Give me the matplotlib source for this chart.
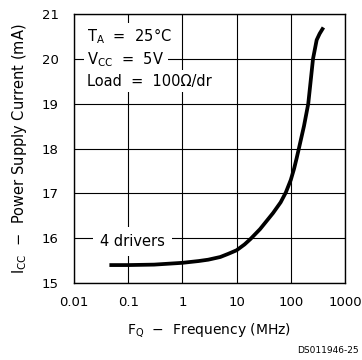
import numpy as np
import matplotlib.pyplot as plt

# Supply current vs. frequency
freq_mhz = [0.045, 0.1, 0.3, 1, 2, 3, 5, 7, 10, 14, 18, 27, 47, 65, 81, 100, 115, 128, 141, 175, 210, 257, 300, 340, 400]
icc_ma = [15.4, 15.4, 15.41, 15.45, 15.49, 15.52, 15.58, 15.65, 15.73, 15.86, 15.98, 16.2, 16.56, 16.8, 17.02, 17.3, 17.55, 17.78, 18.0, 18.5, 19.0, 20.0, 20.42, 20.56, 20.7]

x_ticks = [0.01, 0.1, 1, 10, 100, 1000]
x_labels = ["0.01", "0.1", "1", "10", "100", "1000"]
y_ticks = [15, 16, 17, 18, 19, 20, 21]

plt.rcParams['font.family'] = ['DejaVu Sans']

fig = plt.figure(figsize=(3.62, 3.6), dpi=100)
ax = fig.add_axes([74/362, 1 - 283/360, (345-74)/362, (283-14)/360])

ax.set_xscale('log')
ax.set_xlim(0.01, 1000)
ax.set_ylim(15, 21)
ax.set_xticks(x_ticks)
ax.set_xticklabels(x_labels)
ax.minorticks_off()
ax.set_yticks(y_ticks)
ax.tick_params(axis='x', length=0, labelsize=9.5, pad=9)
ax.tick_params(axis='y', length=0, labelsize=9.5, pad=11)
ax.grid(True, color='black', linewidth=0.8)
for s in ax.spines.values():
    s.set_linewidth(1.0)

ax.plot(freq_mhz, icc_ma, color='black', linewidth=2.7, solid_capstyle='butt',
        solid_joinstyle='round', zorder=3)

# condition labels, each line on its own white patch
box = dict(facecolor='white', edgecolor='none', pad=2.5)
ax.text(0.0175, 20.51, "T$_\\mathregular{A}$  =  25°C", fontsize=10.5, va='center', ha='left', bbox=box, zorder=4)
ax.text(0.0175, 19.98, "V$_\\mathregular{CC}$  =  5V", fontsize=10.5, va='center', ha='left', bbox=box, zorder=4)
ax.text(0.0175, 19.5, "Load  =  100Ω/dr", fontsize=10.5, va='center', ha='left', bbox=box, zorder=4)
ax.text(0.03, 15.93, "4 drivers", fontsize=10.5, va='center', ha='left',
        bbox=dict(facecolor='white', edgecolor='none', pad=5), zorder=4)

ax.set_xlabel("F$_\\mathregular{Q}$  −  Frequency (MHz)", fontsize=10, labelpad=9)
ax.set_ylabel("I$_\\mathregular{CC}$  −  Power Supply Current (mA)", fontsize=10.5, labelpad=9)

fig.text(0.99, 0.015, "DS011946-25", fontsize=6.5, ha='right', va='bottom')

fig.savefig("out.png", dpi=100)
